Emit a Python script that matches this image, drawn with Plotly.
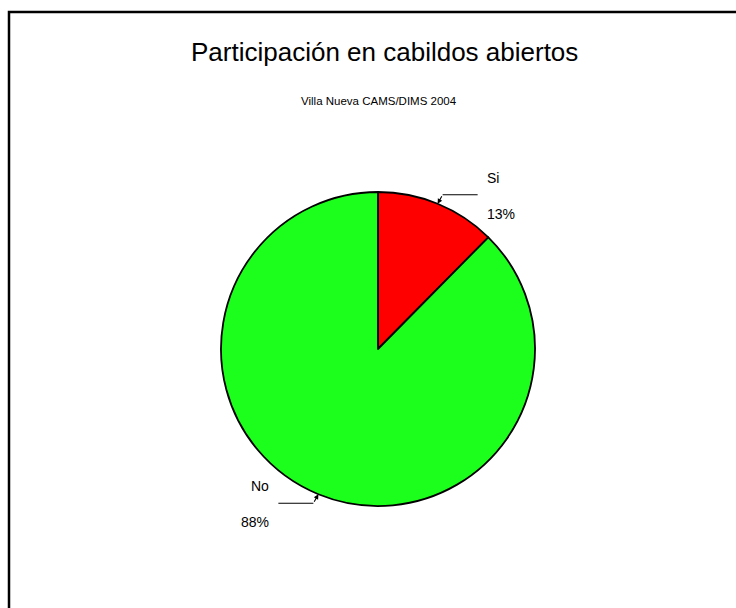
import math
import plotly.graph_objects as go

# chart data
labels = ["Si", "No"]
values = [12.4, 87.6]
pct_text = ["13%", "88%"]
colors = ["#FF0000", "#1CFF1C"]

title = "Participación en cabildos abiertos"
subtitle = "Villa Nueva CAMS/DIMS 2004"

W, H = 736, 608
# pie placement in pixels
cx, cy, r = 378, 349, 157


def px(x):
    return x / W


def py(y):
    return 1 - y / H


fig = go.Figure()
fig.add_trace(go.Pie(
    labels=labels,
    values=values,
    sort=False,
    direction="clockwise",
    rotation=0,
    textinfo="none",
    hoverinfo="label+percent",
    marker=dict(colors=colors, line=dict(color="black", width=1.8)),
    domain=dict(x=[px(cx - r), px(cx + r)], y=[py(cy + r), py(cy - r)]),
    showlegend=False,
))

shapes = []
annotations = []

# outer frame (only left and top edges fall inside the picture)
shapes.append(dict(type="rect", xref="paper", yref="paper",
                   x0=px(9), x1=1.5, y0=-0.5, y1=py(12),
                   line=dict(color="black", width=2.5), layer="above"))

# leader lines and labels, placed from each slice's mid angle
total = sum(values)
cum = 0
for lab, v, pt in zip(labels, values, pct_text):
    theta = 2 * math.pi * (cum + v / 2) / total
    cum += v
    tx = cx + r * math.sin(theta)
    ty = cy - r * math.cos(theta)
    sx = 1 if math.sin(theta) > 0 else -1
    sy = -1 if math.cos(theta) > 0 else 1
    ex, ey = tx + 5 * sx, ty + 9 * sy
    lx = ex + 35 * sx
    # arrow from elbow to pie edge
    annotations.append(dict(x=px(tx), y=py(ty), xref="paper", yref="paper",
                            ax=ex - tx, ay=ey - ty, text="", showarrow=True,
                            arrowhead=2, arrowsize=0.9, arrowwidth=1.1,
                            arrowcolor="black"))
    shapes.append(dict(type="line", xref="paper", yref="paper",
                       x0=px(ex), y0=py(ey), x1=px(lx), y1=py(ey),
                       line=dict(color="black", width=1.2)))
    anchor = "left" if sx > 0 else "right"
    annotations.append(dict(x=px(lx + 7 * sx), y=py(ey - 17), xref="paper", yref="paper",
                            text=lab, showarrow=False, xanchor=anchor, yanchor="middle",
                            font=dict(size=14, color="black")))
    annotations.append(dict(x=px(lx + 7 * sx), y=py(ey + 19), xref="paper", yref="paper",
                            text=pt, showarrow=False, xanchor=anchor, yanchor="middle",
                            font=dict(size=14, color="black")))

# titles
annotations.append(dict(x=px(384), y=py(52), xref="paper", yref="paper",
                        text=title, showarrow=False, xanchor="center", yanchor="middle",
                        font=dict(size=26, color="black")))
annotations.append(dict(x=px(379), y=py(101), xref="paper", yref="paper",
                        text=subtitle, showarrow=False, xanchor="center", yanchor="middle",
                        font=dict(size=11.5, color="black")))

fig.update_layout(
    width=W, height=H,
    margin=dict(l=0, r=0, t=0, b=0),
    paper_bgcolor="white",
    plot_bgcolor="white",
    font=dict(family="Arial, Liberation Sans, sans-serif", color="black"),
    shapes=shapes,
    annotations=annotations,
)

# drop the default page margin so the figure sits at the window corner
fig.write_html("out.html", config={"displayModeBar": False},
               post_script="document.body.style.margin='0px';document.body.style.overflow='hidden';")
